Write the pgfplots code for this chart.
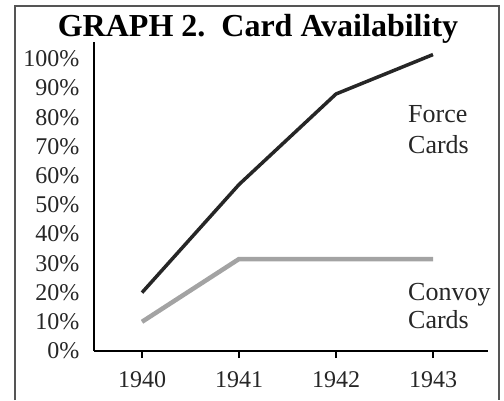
\documentclass[border=0pt]{standalone}
\usepackage{pgfplots}
\pgfplotsset{compat=1.18}
\usepackage{fontspec}
\setmainfont{Liberation Serif}
\definecolor{forcecol}{HTML}{262626}
\definecolor{convoycol}{HTML}{A3A3A3}
\definecolor{boxcol}{HTML}{555555}
\begin{document}
\begin{tikzpicture}
\useasboundingbox (0pt,0pt) rectangle (504pt,400pt);
\draw[boxcol, line width=2pt] (15pt,0pt) -- (15pt,394pt) -- (499pt,394pt) -- (499pt,0pt);
\node[anchor=base, font=\fontsize{32}{36}\selectfont\bfseries] at (258pt,363pt) {GRAPH 2.\ \ Card Availability};
\begin{axis}[
  at={(94pt,49pt)}, anchor=south west,
  scale only axis, width=394pt, height=309pt,
  xmin=1939.505, xmax=1943.567, ymin=0, ymax=105.8,
  axis lines=left, axis line style={-, line width=2pt, black},
  xtick={1940,1941,1942,1943},
  xticklabels={1940,1941,1942,1943},
  ytick={0,10,20,30,40,50,60,70,80,90,100},
  yticklabels={0\%,10\%,20\%,30\%,40\%,50\%,60\%,70\%,80\%,90\%,100\%},
  tick label style={font=\fontsize{24}{28}\selectfont, text=black!85},
  tick align=outside, major tick length=7pt,
  xtick style={black, line width=1.5pt},
  ytick style={draw=none},
  yticklabel style={anchor=east, xshift=-4pt},
  xticklabel style={yshift=-10pt},
  clip=false,
]
\addplot[forcecol, line width=3.5pt, line join=round] coordinates {
  (1940,20) (1941,57) (1942,88) (1943,101.5)};
\addplot[convoycol, line width=4.5pt, line join=round] coordinates {
  (1940,10) (1941,31.5) (1942,31.5) (1943,31.5)};
\end{axis}
\begin{scope}[font=\fontsize{26}{30}\selectfont, text=black!85]
\node[anchor=base west, inner sep=0] at (408pt,278pt) {Force};
\node[anchor=base west, inner sep=0] at (408pt,247pt) {Cards};
\node[anchor=base west, inner sep=0] at (408pt,100pt) {Convoy};
\node[anchor=base west, inner sep=0] at (408pt,72pt) {Cards};
\end{scope}
\end{tikzpicture}
\end{document}
